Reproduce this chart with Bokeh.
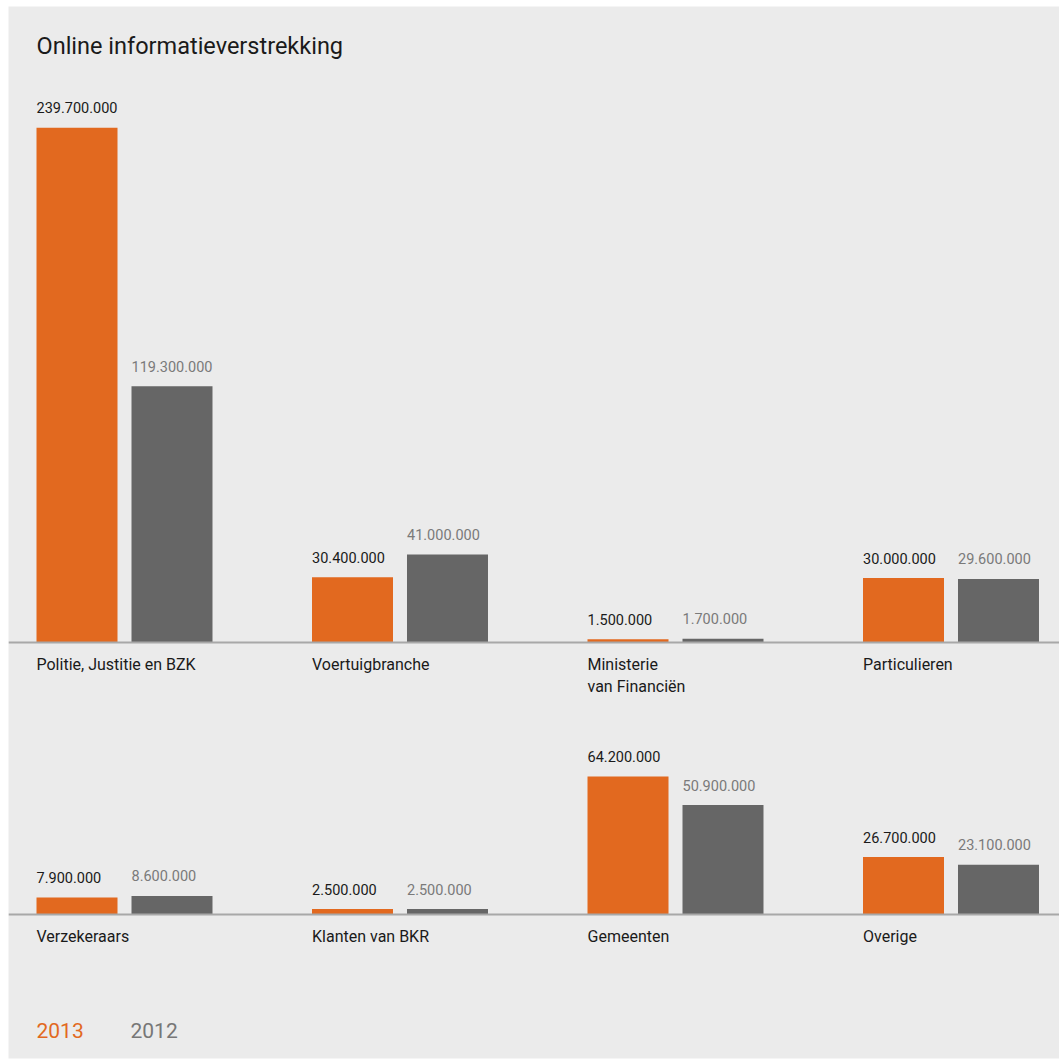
from bokeh.plotting import figure
from bokeh.models import Range1d, Span, Label, ColumnDataSource
from bokeh.core.properties import value
from bokeh.embed import file_html
from bokeh.resources import INLINE

# ---- data (values in millions) ----
categories = ["Politie, Justitie en BZK", "Voertuigbranche", "Ministerie\nvan Financiën", "Particulieren",
              "Verzekeraars", "Klanten van BKR", "Gemeenten", "Overige"]
v2013 = [239.7, 30.4, 1.5, 30.0, 7.9, 2.5, 64.2, 26.7]
v2012 = [119.3, 41.0, 1.7, 29.6, 8.6, 2.5, 50.9, 23.1]
years = ["2013", "2012"]

ORANGE = "#e2691f"
GRAY = "#666666"
BG = "#ebebeb"
FONT = "Roboto"

PER_ROW = 4
ROW_OFFSET = 126.6   # vertical distance between the two rows' baselines, in millions
BAR_W = 0.294
HALF = 0.1724


def fmt(v):
    return f"{int(round(v * 1e6)):,}".replace(",", ".")


cols = [i % PER_ROW for i in range(len(categories))]
bases = [-(i // PER_ROW) * ROW_OFFSET for i in range(len(categories))]
x13 = [c - HALF for c in cols]
x12 = [c + HALF for c in cols]

src13 = ColumnDataSource(dict(x=x13, left=[x - BAR_W / 2 for x in x13], base=bases,
                              top=[b + v for b, v in zip(bases, v2013)], lab=[fmt(v) for v in v2013]))
src12 = ColumnDataSource(dict(x=x12, left=[x - BAR_W / 2 for x in x12], base=bases,
                              top=[b + v for b, v in zip(bases, v2012)], lab=[fmt(v) for v in v2012]))
srccat = ColumnDataSource(dict(x=[x - BAR_W / 2 for x in x13], y=bases, text=categories))

p = figure(width=1059, height=1061, output_backend="svg", toolbar_location=None,
           x_range=Range1d(-0.42105, 3.39383), y_range=Range1d(-193.67, 296.09),
           min_border_left=8, min_border_top=6, min_border_right=0, min_border_bottom=3,
           background_fill_color=BG, border_fill_color="white", outline_line_color=None)
p.axis.visible = False
p.grid.visible = False

p.vbar(x="x", width=BAR_W, bottom="base", top="top", source=src13, color=ORANGE, line_color=None)
p.vbar(x="x", width=BAR_W, bottom="base", top="top", source=src12, color=GRAY, line_color=None)

for b in sorted(set(bases)):
    p.add_layout(Span(location=b, dimension="width", line_color="#a8a8a8", line_width=2))

p.text(x="left", y="top", text="lab", source=src13, text_baseline="alphabetic", y_offset=-20,
       text_font=value(FONT), text_font_size="14.5px", text_color="#1a1a1a")
p.text(x="left", y="top", text="lab", source=src12, text_baseline="alphabetic", y_offset=-20,
       text_font=value(FONT), text_font_size="14.5px", text_color="#7a7a7a")
p.text(x="x", y="y", text="text", source=srccat, text_baseline="top", y_offset=13,
       text_font=value(FONT), text_font_size="16px", text_color="#1a1a1a", text_line_height=1.12)

p.add_layout(Label(x=28, y=1052 - 39, x_units="screen", y_units="screen", text="Online informatieverstrekking",
                   text_font=FONT, text_font_size="23.5px", text_color="#1a1a1a", text_baseline="middle"))
p.add_layout(Label(x=28, y=1052 - 1024, x_units="screen", y_units="screen", text=years[0],
                   text_font=FONT, text_font_size="21px", text_color=ORANGE, text_baseline="middle"))
p.add_layout(Label(x=122, y=1052 - 1024, x_units="screen", y_units="screen", text=years[1],
                   text_font=FONT, text_font_size="21px", text_color="#777777", text_baseline="middle"))

open("out.html", "w").write(file_html(p, INLINE))
